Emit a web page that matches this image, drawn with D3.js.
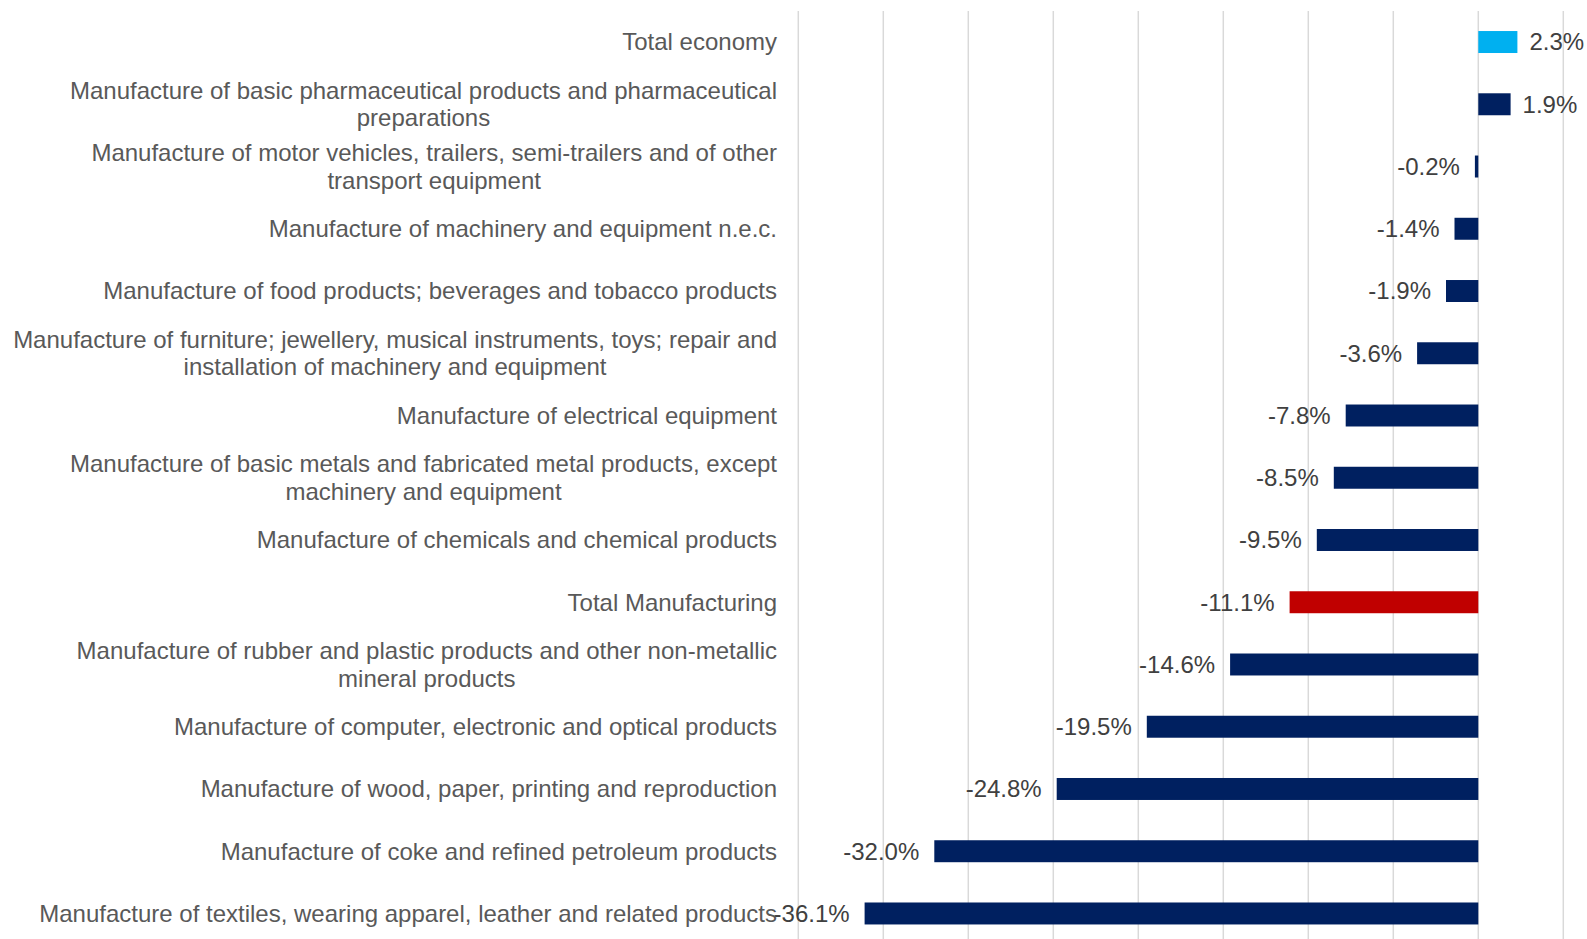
<!DOCTYPE html>
<html><head><meta charset="utf-8">
<script src="https://cdn.jsdelivr.net/npm/d3@7"></script>
<style>html,body{margin:0;padding:0;background:#fff;}svg{display:block;}</style>
</head><body>
<svg id="chart" width="1587" height="939"></svg>
<script>
const categories = [
  "Total economy",
  "Manufacture of basic pharmaceutical products and pharmaceutical\npreparations",
  "Manufacture of motor vehicles, trailers, semi-trailers and of other\ntransport equipment",
  "Manufacture of machinery and equipment n.e.c.",
  "Manufacture of food products; beverages and tobacco products",
  "Manufacture of furniture; jewellery, musical instruments, toys; repair and\ninstallation of machinery and equipment",
  "Manufacture of electrical equipment",
  "Manufacture of basic metals and fabricated metal products, except\nmachinery and equipment",
  "Manufacture of chemicals and chemical products",
  "Total Manufacturing",
  "Manufacture of rubber and plastic products and other non-metallic\nmineral products",
  "Manufacture of computer, electronic and optical products",
  "Manufacture of wood, paper, printing and reproduction",
  "Manufacture of coke and refined petroleum products",
  "Manufacture of textiles, wearing apparel, leather and related products"
];
const values = [2.3, 1.9, -0.2, -1.4, -1.9, -3.6, -7.8, -8.5, -9.5, -11.1, -14.6, -19.5, -24.8, -32.0, -36.1];
const barKinds = ["economy","sector","sector","sector","sector","sector","sector","sector","sector","manufacturing","sector","sector","sector","sector","sector"];
const gridTicks = [-40, -35, -30, -25, -20, -15, -10, -5, 0, 5];

const colors = {economy: "#00B0F0", sector: "#002060", manufacturing: "#C00000"};
const data = categories.map((c, i) => ({cat: c, value: values[i], kind: barKinds[i]}));

const svg = d3.select("#chart");
const x = d3.scaleLinear().domain([-40, 5]).range([798.3, 1563.3]);
const y = d3.scaleBand().domain(categories).range([10.9, 944.6]).paddingInner(0.647).paddingOuter(0.3235);

// gridlines
svg.append("g").selectAll("line").data(gridTicks).join("line")
  .attr("x1", d => x(d)).attr("x2", d => x(d))
  .attr("y1", 11).attr("y2", 939)
  .attr("stroke", "#d9d9d9").attr("stroke-width", 1.5);

// bars
svg.append("g").selectAll("rect").data(data).join("rect")
  .attr("x", d => x(Math.min(0, d.value)))
  .attr("width", d => Math.abs(x(d.value) - x(0)))
  .attr("y", d => y(d.cat))
  .attr("height", y.bandwidth())
  .attr("fill", d => colors[d.kind]);

// value labels
const fmt = d => d.toFixed(1) + "%";
svg.append("g").selectAll("text").data(data).join("text")
  .attr("x", d => d.value >= 0 ? x(d.value) + 12 : x(d.value) - 15)
  .attr("y", d => y(d.cat) + y.bandwidth() / 2)
  .attr("dy", "0.35em")
  .attr("text-anchor", d => d.value >= 0 ? "start" : "end")
  .attr("font-family", "'Liberation Sans', Arial, sans-serif")
  .attr("font-size", 24)
  .attr("fill", "#404040")
  .text(d => fmt(d.value));

// category labels
const lineH = 27.5;
const labels = svg.append("g").selectAll("text").data(data).join("text")
  .attr("text-anchor", "middle")
  .attr("font-family", "'Liberation Sans', Arial, sans-serif")
  .attr("font-size", 24)
  .attr("fill", "#595959");
labels.each(function(d) {
  const lines = d.cat.split("\n");
  const t = d3.select(this);
  const cy = y(d.cat) + y.bandwidth() / 2;
  lines.forEach((ln, i) => {
    t.append("tspan")
      .attr("y", cy + (i - (lines.length - 1) / 2) * lineH)
      .attr("dy", "0.35em")
      .text(ln);
  });
});
labels.each(function(d) {
  const t = d3.select(this);
  const spans = t.selectAll("tspan");
  let maxW = 0;
  spans.each(function() { maxW = Math.max(maxW, this.getComputedTextLength()); });
  const right = 777;
  spans.attr("x", right - maxW / 2);
});
</script>
</body></html>
